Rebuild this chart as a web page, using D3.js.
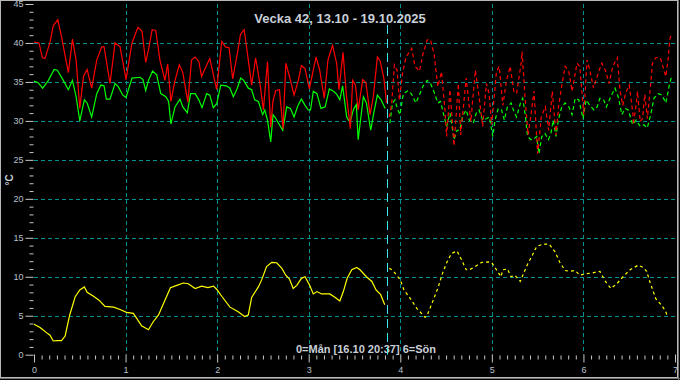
<!DOCTYPE html>
<html><head><meta charset="utf-8">
<script src="https://cdn.jsdelivr.net/npm/d3@7"></script>
<style>html,body{margin:0;padding:0;background:#000;}svg{display:block;}</style>
</head><body>
<script>
const titleText = "Vecka 42, 13.10 - 19.10.2025";
const footText = "0=Mån [16.10 20:37] 6=Sön";
const yLabel = "°C";
const yTicks = [0,5,10,15,20,25,30,35,40,45];
const xTicks = [0,1,2,3,4,5,6,7];
const nowDay = 3.858;

// [day, °C] — red (max), observed
const redObs = [[0,40.1],[0.055,40.0],[0.091,38.1],[0.12,38.0],[0.175,40.1],[0.21,42.2],[0.26,43.0],[0.30,40.8],[0.375,36.2],[0.42,40.5],[0.46,37.8],[0.50,31.6],[0.54,35.7],[0.58,36.6],[0.63,34.2],[0.685,37.8],[0.74,39.5],[0.765,39.5],[0.83,34.8],[0.885,40.0],[0.94,39.5],[1.005,35.3],[1.07,40.0],[1.135,42.0],[1.18,41.5],[1.22,37.5],[1.25,39.1],[1.29,41.7],[1.33,41.6],[1.375,37.8],[1.43,35.2],[1.46,37.3],[1.495,32.5],[1.54,35.2],[1.587,37.2],[1.625,36.2],[1.68,32.4],[1.72,37.8],[1.76,38.2],[1.80,37.6],[1.83,35.7],[1.88,37.0],[1.92,38.0],[1.995,34.0],[2.05,40.2],[2.09,39.5],[2.13,39.4],[2.17,35.4],[2.22,38.6],[2.255,41.1],[2.295,41.7],[2.33,38.7],[2.377,34.6],[2.42,38.1],[2.47,34.6],[2.505,31.4],[2.55,37.6],[2.585,29.2],[2.61,32.6],[2.64,33.9],[2.68,34.0],[2.72,29.0],[2.75,37.4],[2.79,35.7],[2.84,33.3],[2.886,35.2],[2.92,37.1],[2.96,36.7],[3.007,34.1],[3.08,38.2],[3.12,36.5],[3.17,32.9],[3.21,37.8],[3.26,39.7],[3.305,37.4],[3.33,34.0],[3.375,38.8],[3.41,33.5],[3.455,29.0],[3.48,35.2],[3.51,34.6],[3.54,31.4],[3.59,35.3],[3.625,34.9],[3.67,30.8],[3.705,33.1],[3.75,38.2],[3.78,37.7],[3.82,35.5],[3.85,32.3]];
// red, forecast
const redFc = [[3.88,30.5],[3.906,32.2],[3.935,37.2],[3.965,36.5],[3.99,32.7],[4.027,36.3],[4.063,38.2],[4.125,39.3],[4.16,37.0],[4.21,36.4],[4.25,38.7],[4.295,40.4],[4.33,40.4],[4.37,38.5],[4.41,34.4],[4.45,36.3],[4.488,31.4],[4.506,28.0],[4.543,34.0],[4.587,26.8],[4.634,34.8],[4.66,28.2],[4.72,35.5],[4.77,29.9],[4.82,36.5],[4.86,33.1],[4.90,29.3],[4.94,34.8],[4.97,33.5],[4.998,29.5],[5.05,36.3],[5.08,37.0],[5.12,32.0],[5.16,35.2],[5.20,37.0],[5.24,33.8],[5.27,33.5],[5.32,37.4],[5.33,38.9],[5.36,33.4],[5.395,28.2],[5.43,31.0],[5.46,33.8],[5.50,25.8],[5.54,30.5],[5.584,31.8],[5.62,28.8],[5.66,33.8],[5.70,28.2],[5.73,32.0],[5.77,35.0],[5.80,37.0],[5.84,36.4],[5.876,33.8],[5.93,37.4],[5.96,37.0],[6.004,30.8],[6.04,37.8],[6.07,36.5],[6.11,34.2],[6.15,35.7],[6.20,37.4],[6.24,36.5],[6.28,34.8],[6.32,37.0],[6.37,38.1],[6.40,33.8],[6.43,32.0],[6.46,33.5],[6.50,34.6],[6.54,31.0],[6.545,29.5],[6.58,32.5],[6.59,33.8],[6.62,29.9],[6.645,30.3],[6.67,33.4],[6.698,30.3],[6.73,34.2],[6.755,37.4],[6.79,38.1],[6.84,38.1],[6.88,36.5],[6.90,35.7],[6.925,37.9],[6.945,40.6],[6.96,41.0]];

// green (min), observed
const greenObs = [[0,35.1],[0.045,34.9],[0.095,34.2],[0.157,35.2],[0.22,36.6],[0.255,36.5],[0.32,35.2],[0.375,34.0],[0.42,35.2],[0.46,33.1],[0.50,30.0],[0.55,32.7],[0.58,32.3],[0.63,30.5],[0.685,33.5],[0.73,34.6],[0.765,34.5],[0.79,32.8],[0.83,32.8],[0.885,34.8],[0.92,34.4],[0.97,33.3],[1.005,33.0],[1.07,35.5],[1.157,35.6],[1.19,35.3],[1.22,33.9],[1.25,35.2],[1.295,36.4],[1.34,35.9],[1.384,33.5],[1.44,33.1],[1.47,32.5],[1.495,29.6],[1.54,31.8],[1.594,32.8],[1.625,31.8],[1.674,31.05],[1.71,33.5],[1.76,33.5],[1.80,32.7],[1.835,31.7],[1.886,33.5],[1.92,33.3],[1.958,31.7],[1.995,32.2],[2.04,34.6],[2.10,34.5],[2.14,34.2],[2.177,33.1],[2.22,34.2],[2.257,35.5],[2.29,35.2],[2.34,34.2],[2.377,34.0],[2.41,32.7],[2.45,32.5],[2.497,30.8],[2.52,31.4],[2.55,30.1],[2.585,27.3],[2.61,30.8],[2.636,30.4],[2.67,29.7],[2.716,28.8],[2.76,31.8],[2.80,31.6],[2.84,30.5],[2.88,31.9],[2.92,32.8],[2.96,32.0],[2.995,31.4],[3.02,31.4],[3.05,33.8],[3.09,33.5],[3.134,31.6],[3.18,31.8],[3.225,34.1],[3.27,33.8],[3.307,33.4],[3.34,32.7],[3.37,34.5],[3.415,30.5],[3.45,29.8],[3.49,31.5],[3.52,32.1],[3.54,27.6],[3.57,30.5],[3.597,33.1],[3.63,32.3],[3.677,28.8],[3.71,31.0],[3.75,33.3],[3.79,32.7],[3.835,31.6]];
// green, forecast
const greenFc = [[3.886,29.7],[3.915,32.3],[3.942,32.7],[3.967,31.6],[3.997,30.8],[4.033,33.5],[4.088,33.9],[4.125,33.4],[4.17,32.3],[4.208,33.3],[4.25,34.5],[4.295,35.2],[4.33,34.8],[4.368,33.75],[4.41,32.3],[4.44,32.5],[4.48,30.5],[4.506,29.3],[4.543,31.0],[4.587,27.6],[4.62,28.8],[4.65,28.8],[4.68,30.6],[4.718,31.4],[4.755,30.1],[4.797,29.7],[4.83,31.0],[4.86,31.4],[4.90,30.1],[4.944,30.3],[4.973,30.5],[5.01,28.0],[5.035,30.1],[5.07,31.6],[5.106,31.4],[5.136,30.1],[5.17,31.8],[5.21,32.3],[5.235,31.4],[5.27,30.5],[5.31,32.2],[5.337,32.9],[5.363,30.9],[5.39,28.0],[5.425,27.6],[5.45,27.6],[5.49,28.0],[5.515,25.8],[5.545,28.0],[5.58,28.4],[5.617,27.6],[5.645,28.4],[5.67,30.1],[5.70,28.0],[5.726,30.1],[5.763,31.8],[5.80,32.3],[5.84,31.8],[5.876,30.8],[5.91,32.9],[5.95,32.7],[5.996,30.3],[6.03,32.7],[6.07,32.0],[6.115,31.4],[6.15,31.8],[6.18,32.9],[6.22,32.7],[6.25,31.8],[6.298,33.1],[6.345,34.2],[6.38,33.1],[6.42,30.8],[6.455,31.6],[6.49,31.4],[6.538,29.5],[6.575,30.1],[6.62,29.3],[6.66,29.5],[6.697,29.1],[6.735,30.8],[6.77,32.9],[6.817,33.5],[6.86,33.3],[6.90,32.3],[6.938,34.6],[6.96,35.6]];

// yellow (outdoor), observed
const yellowObs = [[0,3.9],[0.066,3.5],[0.14,2.8],[0.175,2.5],[0.21,1.76],[0.25,1.8],[0.30,1.8],[0.34,2.4],[0.39,5.1],[0.45,7.45],[0.50,8.3],[0.55,8.7],[0.58,8.0],[0.65,7.5],[0.71,7.0],[0.775,6.2],[0.87,6.1],[0.94,5.8],[1.01,5.44],[1.085,5.3],[1.12,4.7],[1.175,3.7],[1.25,3.2],[1.30,4.2],[1.36,5.1],[1.43,7.0],[1.49,8.6],[1.56,8.9],[1.63,9.2],[1.685,9.1],[1.76,8.5],[1.83,8.8],[1.90,8.6],[1.96,8.8],[1.995,8.4],[2.05,7.5],[2.14,6.1],[2.23,5.5],[2.30,4.9],[2.34,5.1],[2.377,7.35],[2.45,8.7],[2.486,9.6],[2.54,11.3],[2.597,11.85],[2.65,11.8],[2.705,11.1],[2.75,10.2],[2.79,9.7],[2.83,8.5],[2.87,8.9],[2.92,9.8],[2.96,10.0],[3.01,8.9],[3.05,7.8],[3.09,8.1],[3.14,7.8],[3.23,7.8],[3.29,7.35],[3.34,6.9],[3.378,8.1],[3.42,9.8],[3.47,10.9],[3.524,11.2],[3.56,10.9],[3.63,10.0],[3.69,9.4],[3.735,8.3],[3.786,7.7],[3.83,6.4]];
// yellow, forecast
const yellowFc = [[3.88,11.1],[3.92,10.8],[4.0,9.6],[4.04,8.3],[4.11,7.2],[4.18,5.95],[4.27,4.8],[4.29,4.95],[4.36,7.0],[4.415,8.7],[4.46,10.4],[4.51,11.9],[4.56,13.0],[4.62,13.3],[4.67,12.15],[4.72,10.9],[4.755,10.9],[4.815,11.3],[4.89,11.85],[4.96,11.9],[5.0,11.8],[5.05,10.9],[5.10,10.0],[5.12,10.9],[5.17,11.0],[5.21,10.0],[5.25,10.2],[5.31,9.4],[5.345,10.4],[5.39,11.6],[5.435,12.6],[5.49,13.9],[5.56,14.2],[5.625,14.2],[5.69,13.2],[5.74,11.9],[5.80,10.8],[5.85,10.7],[5.91,10.8],[5.96,10.2],[6.036,10.4],[6.10,10.5],[6.18,10.7],[6.24,9.4],[6.30,8.5],[6.365,9.1],[6.44,10.1],[6.51,10.9],[6.60,11.5],[6.65,11.2],[6.69,10.7],[6.73,9.2],[6.79,7.2],[6.86,6.25],[6.90,5.5],[6.92,4.8]];

const W = 680, H = 380;
const svg = d3.select("body").append("svg").attr("width", W).attr("height", H);
svg.append("rect").attr("width", W).attr("height", H).attr("fill", "#000");
svg.append("rect").attr("x", 0.5).attr("y", 0.5).attr("width", W - 3).attr("height", H - 3)
  .attr("fill", "none").attr("stroke", "#b8b8b8").attr("stroke-width", 1);
svg.append("line").attr("x1", W-1.5).attr("x2", W-1.5).attr("y1", 0).attr("y2", H).attr("stroke", "#707070");
svg.append("line").attr("x1", 0).attr("x2", W).attr("y1", H-1.5).attr("y2", H-1.5).attr("stroke", "#707070");

const x = d3.scaleLinear().domain([0, 7]).range([34, 675]);
const y = d3.scaleLinear().domain([0, 45]).range([354.7, 4]);

const labelColor = "#b8c0cc";
const gridColor = "#009090";

// grid
svg.append("g").selectAll("line").data(yTicks.filter(v => v > 0 && v < 45)).join("line")
  .attr("x1", x(0)).attr("x2", x(7)).attr("y1", d => Math.round(y(d)) + 0.5).attr("y2", d => Math.round(y(d)) + 0.5)
  .attr("stroke", gridColor).attr("stroke-dasharray", "4,3");
svg.append("g").selectAll("line").data(xTicks.filter(v => v > 0 && v < 7)).join("line")
  .attr("x1", d => Math.round(x(d)) + 0.5).attr("x2", d => Math.round(x(d)) + 0.5).attr("y1", y(45)).attr("y2", y(0))
  .attr("stroke", gridColor).attr("stroke-dasharray", "4,3");

// axes
const yAxis = d3.axisLeft(y).tickValues(yTicks).tickSize(8).tickPadding(2).tickFormat(d3.format("d"));
const gy = svg.append("g").attr("transform", "translate(33.5,0)").call(yAxis);
const yMinor = d3.range(0, 46).filter(v => v % 5 !== 0);
svg.append("g").attr("transform", "translate(33.5,0)").call(d3.axisLeft(y).tickValues(yMinor).tickSize(4).tickFormat(""));
const xAxis = d3.axisBottom(x).tickValues(xTicks).tickSize(8).tickPadding(4).tickFormat(d3.format("d"));
svg.append("g").attr("transform", "translate(0,354.5)").call(xAxis);
const xMinor = d3.range(0, 85).filter(i => i % 12 !== 0).map(i => i / 12);
svg.append("g").attr("transform", "translate(0,355.5)").call(d3.axisBottom(x).tickValues(xMinor).tickSize(4).tickFormat(""));
svg.selectAll(".domain").remove();
svg.selectAll(".tick line").attr("stroke", "#c8c8c8");
svg.selectAll(".tick text").attr("fill", labelColor).style("font-family", "'Liberation Sans', Arial, sans-serif").style("font-size", "9px");

// texts
svg.append("text").attr("x", 340).attr("y", 22.5).attr("text-anchor", "middle")
  .attr("fill", "#c8d0d8").style("font-family", "'Liberation Sans', Arial, sans-serif").style("font-weight", "bold").style("font-size", "13px")
  .text(titleText);
svg.append("text").attr("x", 366).attr("y", 352.5).attr("text-anchor", "middle")
  .attr("fill", "#c8d0d8").style("font-family", "'Liberation Sans', Arial, sans-serif").style("font-weight", "bold").style("font-size", "11px")
  .text(footText);
svg.append("text").attr("transform", "translate(13,180) rotate(-90)").attr("text-anchor", "middle")
  .attr("fill", "#c8d0d8").style("font-family", "'Liberation Sans', Arial, sans-serif").style("font-weight", "bold").style("font-size", "10px")
  .text(yLabel);

// now line
svg.append("line").attr("x1", Math.round(x(nowDay)) + 0.5).attr("x2", Math.round(x(nowDay)) + 0.5)
  .attr("y1", 25).attr("y2", y(0)).attr("stroke", "#40e8f0").attr("stroke-dasharray", "9,5");

const line = d3.line().x(d => x(d[0])).y(d => y(d[1]));
function draw(data, color, dash) {
  svg.append("path").datum(data).attr("d", line).attr("fill", "none").attr("stroke", color)
    .attr("stroke-width", 1.2).attr("stroke-dasharray", dash || null);
}
draw(yellowObs, "#ffff00");
draw(yellowFc, "#ffff00", "3,3");
draw(greenObs, "#00ff00");
draw(greenFc, "#00ff00", "4,3");
draw(redObs, "#ff0000");
draw(redFc, "#ff0000", "4,3");
</script>
</body></html>
